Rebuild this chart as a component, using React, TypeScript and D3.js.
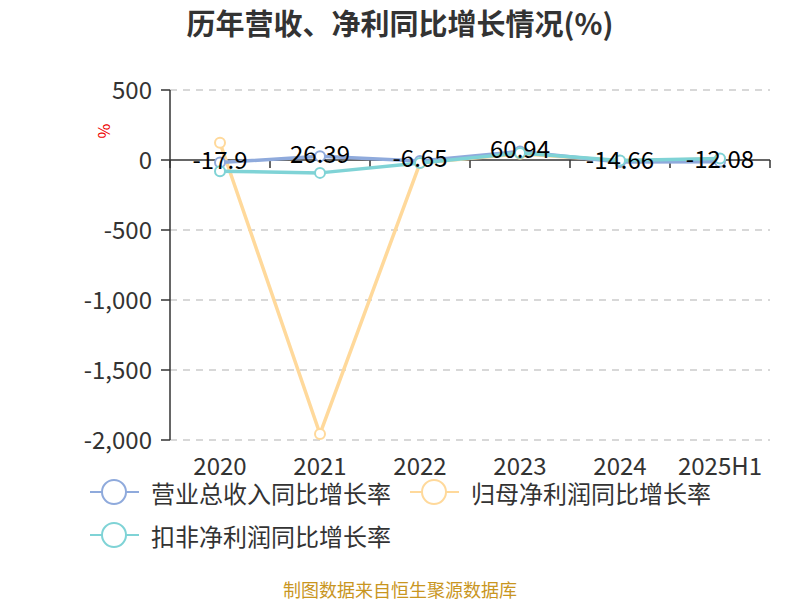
import React from "react";
import * as d3 from "d3";

const categories = ["2020", "2021", "2022", "2023", "2024", "2025H1"];
const revenueGrowth = [-17.9, 26.39, -6.65, 60.94, -14.66, -12.08];
const netProfitGrowth = [123, -1957, -22, 45, -5, 8];
const deductedGrowth = [-80, -92, -22, 50, -3, 10];
const yTicks = [500, 0, -500, -1000, -1500, -2000];
const seriesNames = ["营业总收入同比增长率", "归母净利润同比增长率", "扣非净利润同比增长率"];
const seriesColors = ["#8FAADC", "#FFD99B", "#7FD3D6"];

const fmt = (v: number) => d3.format(",")(v).replace("\u2212", "-");

export default function App() {
  const W = 800, H = 600;
  const left = 170, right = 770, top = 90, bottom = 440;
  const x = d3.scaleBand<string>().domain(categories).range([left, right]);
  const y = d3.scaleLinear().domain([-2000, 500]).range([bottom, top]);
  const cx = (c: string) => (x(c) as number) + x.bandwidth() / 2;
  const line = d3.line<number>().x((_, i) => cx(categories[i])).y((v) => y(v));
  const font = "'Microsoft YaHei', 'Noto Sans CJK SC', 'Noto Sans', sans-serif";
  const series = [
    { name: seriesNames[1], color: seriesColors[1], data: netProfitGrowth },
    { name: seriesNames[0], color: seriesColors[0], data: revenueGrowth },
    { name: seriesNames[2], color: seriesColors[2], data: deductedGrowth },
  ];
  const legend = [
    { name: seriesNames[0], color: seriesColors[0], x: 90, y: 492 },
    { name: seriesNames[1], color: seriesColors[1], x: 410, y: 492 },
    { name: seriesNames[2], color: seriesColors[2], x: 90, y: 535 },
  ];
  const y0 = y(0);
  return (
    <svg width={W} height={H} style={{ display: "block", position: "absolute", left: 0, top: 0 }} fontFamily={font}>
      <rect width={W} height={H} fill="#fff" />
      <text x={400} y={22} textAnchor="middle" dominantBaseline="central" fontSize={29} fontWeight="bold" fill="#333">
        历年营收、净利同比增长情况(%)
      </text>
      {yTicks.map((t) => (
        <g key={t}>
          {t !== 0 && (
            <line x1={left} x2={right} y1={y(t)} y2={y(t)} stroke="#ccc" strokeDasharray="7,6" strokeWidth={1.5} />
          )}
          <line x1={left - 9} x2={left} y1={y(t)} y2={y(t)} stroke="#333" strokeWidth={1.5} />
          <text x={152} y={y(t) - 2} textAnchor="end" dominantBaseline="central" fontSize={24} fill="#333">
            {fmt(t)}
          </text>
        </g>
      ))}
      <text x={105} y={131} fontSize={16} fill="#e00" textAnchor="middle" dominantBaseline="central" transform="rotate(90,105,131)">
        %
      </text>
      <line x1={left} x2={left} y1={top} y2={bottom} stroke="#333" strokeWidth={1.5} />
      <line x1={left} x2={right} y1={y0} y2={y0} stroke="#333" strokeWidth={1.5} />
      {categories.map((c, i) => (
        <line key={"t" + i} x1={x(c) as number} x2={x(c) as number} y1={y0} y2={y0 + 8} stroke="#333" strokeWidth={1.5} />
      ))}
      <line x1={right} x2={right} y1={y0} y2={y0 + 8} stroke="#333" strokeWidth={1.5} />
      {categories.map((c) => (
        <text key={c} x={cx(c)} y={464} textAnchor="middle" dominantBaseline="central" fontSize={24} fill="#333">
          {c}
        </text>
      ))}
      {series.map((s) => (
        <g key={s.name}>
          <path d={line(s.data) as string} fill="none" stroke={s.color} strokeWidth={3.5} strokeLinejoin="round" />
          {s.data.map((v, i) => (
            <circle key={i} cx={cx(categories[i])} cy={y(v)} r={5} fill="#fff" stroke={s.color} strokeWidth={2} />
          ))}
        </g>
      ))}
      {revenueGrowth.map((v, i) => (
        <text key={"l" + i} x={cx(categories[i])} y={y(v) - 4} textAnchor="middle" dominantBaseline="central" fontSize={24} fill="#000">
          {String(v)}
        </text>
      ))}
      {legend.map((l) => (
        <g key={l.name}>
          <line x1={l.x} x2={l.x + 49} y1={l.y} y2={l.y} stroke={l.color} strokeWidth={2} />
          <circle cx={l.x + 24} cy={l.y} r={12} fill="#fff" stroke={l.color} strokeWidth={2} />
          <text x={l.x + 61} y={l.y} dominantBaseline="central" fontSize={24} fill="#333">
            {l.name}
          </text>
        </g>
      ))}
      <text x={400} y={589} textAnchor="middle" dominantBaseline="central" fontSize={18} fill="#C9961F">
        制图数据来自恒生聚源数据库
      </text>
    </svg>
  );
}
